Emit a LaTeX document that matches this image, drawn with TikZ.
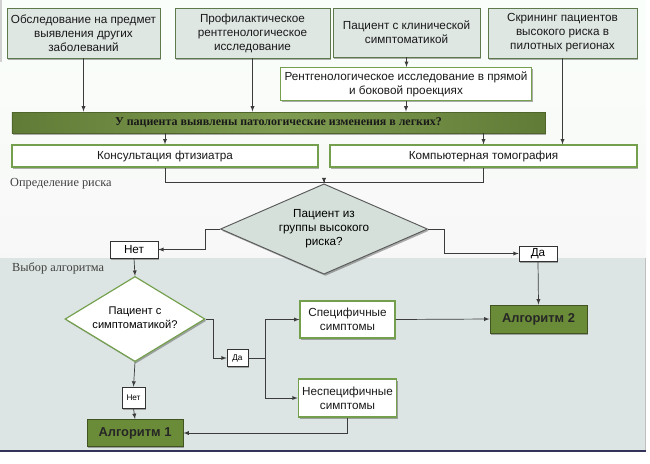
\documentclass[tikz,border=0pt]{standalone}
\usepackage{fontspec}
\setmainfont{Liberation Serif}
\setsansfont{Liberation Sans}
\usetikzlibrary{shapes,arrows,shadows,calc,positioning,backgrounds}

\definecolor{boxgray}{HTML}{DFE7E3}
\definecolor{boxline}{HTML}{5E7A4C}
\definecolor{greenline}{HTML}{74A04E}
\definecolor{barfill}{HTML}{71913F}
\definecolor{algfill}{HTML}{6A8B37}
\definecolor{diamfill}{HTML}{D4E0D9}
\definecolor{bandfill}{HTML}{DCE5E3}
\definecolor{wireclr}{HTML}{3C3C3C}

\newcommand{\dtext}[1]{\smash{\raisebox{-2pt}{\begin{tabular}{@{}c@{}}#1\end{tabular}}}}

\begin{document}
\begin{tikzpicture}[>=latex,x=0.03cm,y=-0.03cm,
  boxshadow/.style={drop shadow={shadow xshift=1.2pt,shadow yshift=-1.5pt,opacity=0.45,fill=black!70}},
  topbox/.style={draw=boxline,fill=boxgray,line width=0.8pt,align=center,boxshadow,
    font=\sffamily\fontsize{10}{12}\selectfont,text=black!90},
  whitebox/.style={draw=greenline,fill=white,line width=1pt,align=center,boxshadow,
    font=\sffamily\fontsize{10}{12}\selectfont,text=black!90},
  bigbar/.style={draw=barfill!70!black,left color=barfill!85!black,right color=barfill!85!black,
    middle color=barfill!90!white,line width=0.8pt,boxshadow,
    font=\bfseries\fontsize{10.2}{12}\selectfont,text=black!90},
  algbox/.style={draw=algfill!60!black,fill=algfill,line width=0.8pt,boxshadow,
    font=\sffamily\bfseries\fontsize{11}{13}\selectfont,text=black!85},
  tagbox/.style={draw=black!80,fill=white,line width=0.5pt,inner sep=1pt,boxshadow,
    font=\sffamily\fontsize{10}{12}\selectfont},
  smalltag/.style={tagbox,font=\sffamily\fontsize{7}{8}\selectfont},
  riskdiam/.style={diamond,draw=black!65,fill=diamfill,line width=0.8pt,inner sep=0pt,boxshadow,
    font=\sffamily\fontsize{10}{12}\selectfont},
  sympdiam/.style={diamond,draw=greenline,fill=white,line width=1pt,inner sep=0pt,boxshadow,
    font=\sffamily\fontsize{9.5}{11.5}\selectfont},
  wire/.style={draw=wireclr,line width=0.6pt},
  section/.style={anchor=west,font=\fontsize{10.5}{12}\selectfont,text=black!75}]

\useasboundingbox (0,0) rectangle (650,463);

% background
\shade[top color=black!11!green!2!white,bottom color=black!3!white] (0,0) rectangle (646,258);
\fill[black!18] (0,0) rectangle (2,62);
\fill[bandfill] (0,258) rectangle (645,450);
\draw[black!25,line width=0.6pt] (645,258) -- (645,450);
\draw[black!75!blue!60!gray,line width=2pt] (0,451) -- (646,451);

% sources
\node[topbox,minimum width=4.29cm,minimum height=1.5cm] (other) at (83.5,33) {Обследование на предмет\\выявления других\\заболеваний};
\node[topbox,minimum width=4.65cm,minimum height=1.5cm] (prof) at (252.5,33) {Профилактическое\\рентгенологическое\\исследование};
\node[topbox,minimum width=4.41cm,minimum height=1.47cm] (clinic) at (406.5,32.5) {Пациент с клинической\\симптоматикой};
\node[topbox,minimum width=4.47cm,minimum height=1.5cm] (screen) at (562.5,33) {Скрининг пациентов\\высокого риска в\\пилотных регионах};

\node[whitebox,minimum width=7.26cm,minimum height=0.96cm] (xray) at (406,84) {Рентгенологическое исследование в прямой\\и боковой проекциях};
\node[bigbar,minimum width=15.99cm,minimum height=0.63cm] (found) at (278.5,122.5) {У пациента выявлены патологические изменения в легких?};
\node[whitebox,minimum width=9.18cm,minimum height=0.66cm] (consult) at (165,156) {Консультация фтизиатра};
\node[whitebox,minimum width=9.21cm,minimum height=0.66cm] (ct) at (483.5,156) {Компьютерная томография};

\draw[wire,->] (other.south) -- (other.south |- found.north);
\draw[wire,->] (prof.south) -- (prof.south |- found.north);
\draw[wire,->] (clinic.south) -- (clinic.south |- xray.north);
\draw[wire,->] (xray.south) -- (xray.south |- found.north);
\draw[wire,->] (screen.south) -- (screen.south |- ct.north);
\draw[wire,->] (found.south -| consult.north) -- (consult.north);
\draw[wire,->] (found.south -| ct.north) -- (ct.north);

% risk
\node[section] (riskhead) at (6,184) {Определение риска};
\node[riskdiam,minimum width=6.21cm,minimum height=1.74cm] (risk) at (324,229) {\dtext{Пациент из\\группы высокого\\риска?}};
\coordinate (join) at (324,182);
\draw[wire] (consult.south) |- (join);
\draw[wire] (ct.south) |- (join);
\draw[wire,->] (join) -- (risk.north);

\node[tagbox,minimum width=1.44cm,minimum height=0.51cm] (no1) at (134,249.5) {Нет};
\node[tagbox,minimum width=1.14cm,minimum height=0.45cm] (yes1) at (538,253.5) {Да};
\draw[wire,->] (risk.west) -- ++(-15,0) |- (no1.east);
\draw[wire,->] (risk.east) -- ++(16,0) |- (yes1.west);

% algorithm
\node[section] (alghead) at (8,268) {Выбор алгоритма};
\node[sympdiam,minimum width=4.2cm,minimum height=2.04cm] (symp) at (135,319) {\dtext{Пациент с\\симптоматикой?}};
\node[smalltag,minimum width=0.63cm,minimum height=0.51cm] (yes2) at (237.5,358) {Да};
\node[smalltag,minimum width=0.69cm,minimum height=0.63cm] (no2) at (133.5,397.5) {Нет};
\node[whitebox,minimum width=2.85cm,minimum height=1.11cm] (spec) at (347.5,319.5) {Специфичные\\симптомы};
\node[whitebox,minimum width=2.85cm,minimum height=1.14cm] (nonspec) at (347.5,398) {Неспецифичные\\симптомы};
\node[algbox,minimum width=2.91cm,minimum height=0.84cm] (alg2) at (538.5,319) {Алгоритм 2};
\node[algbox,minimum width=2.88cm,minimum height=0.81cm] (alg1) at (135,433) {Алгоритм 1};

\draw[wire,->] (no1.south) -- (symp.north);
\draw[wire,->] (yes1.south) -- (alg2.north);
\draw[wire,->] (symp.east) -- ++(8,0) |- (yes2.west);
\coordinate (fork) at (265,358);
\draw[wire] (yes2.east) -- (fork);
\draw[wire,->] (fork) |- (spec.west);
\draw[wire,->] (fork) |- (nonspec.west);
\draw[wire,->] (spec.east) -- (alg2.west);
\draw[wire,->] (symp.south) -- (no2.north);
\draw[wire,->] (no2.south) -- (alg1.north);
\draw[wire,->] (nonspec.south) |- (alg1.east);

\end{tikzpicture}
\end{document}
